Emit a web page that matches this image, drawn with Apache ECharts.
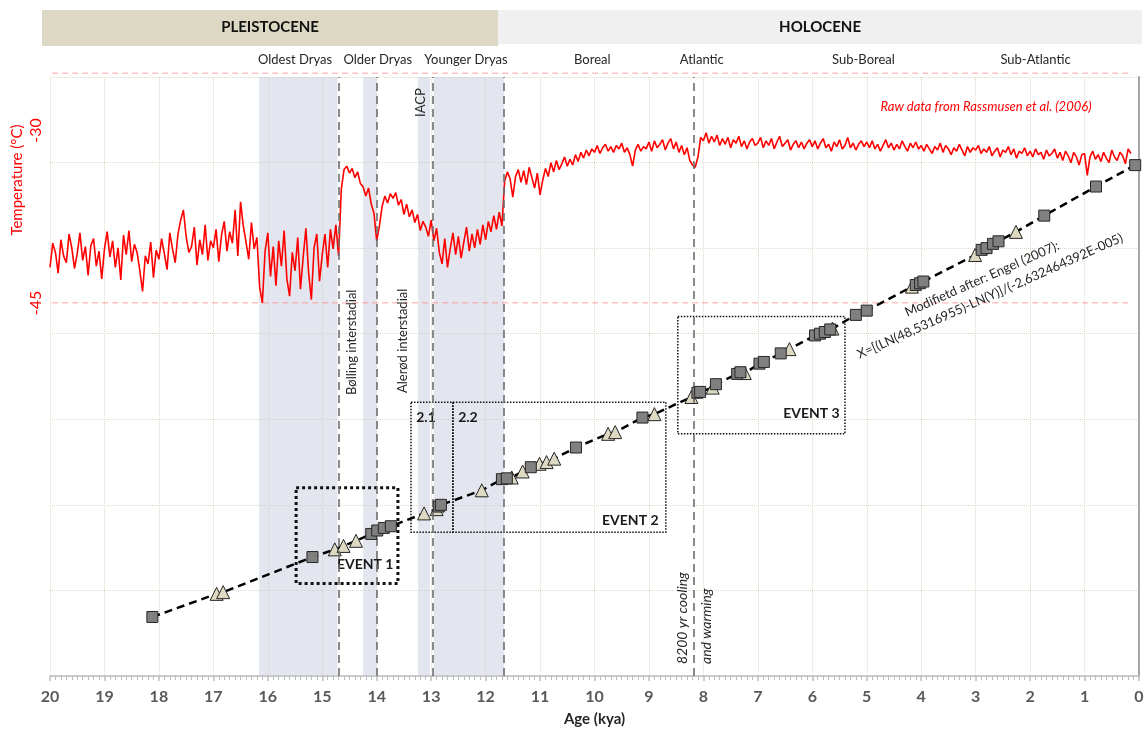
<!DOCTYPE html>
<html>
<head>
<meta charset="utf-8">
<script src="https://cdn.jsdelivr.net/npm/echarts@6/dist/echarts.min.js"></script>
<style>
  html, body { margin: 0; padding: 0; background: #fff; }
  #chart { width: 1145px; height: 730px; }
</style>
</head>
<body>
<div id="chart"></div>
<script>
  // temperature record, one value every 0.05 kya starting at 20 kya
  const tempAgeStart = 20;
  const tempAgeStep = 0.05;
  const temperature = [
    -41.9,-39.8,-40.6,-42.4,-39.5,-40.9,-41.5,-39.0,-40.2,-42.0,-40.7,-38.9,-41.3,-40.1,-42.6,-40.0,-39.4,-41.8,-40.5,-42.9,
    -40.3,-38.8,-41.0,-39.6,-41.9,-40.2,-43.0,-39.1,-40.8,-38.7,-41.4,-39.9,-40.6,-42.2,-44.0,-40.9,-41.6,-39.7,-42.8,-40.4,
    -41.2,-39.4,-40.7,-42.1,-38.9,-40.3,-41.5,-39.0,-37.8,-36.9,-39.2,-40.6,-40.1,-38.4,-41.7,-39.5,-40.8,-38.2,-41.3,-39.6,
    -40.2,-38.6,-41.4,-39.1,-37.9,-40.5,-38.8,-39.8,-36.9,-40.9,-36.2,-38.3,-39.7,-41.2,-38.0,-40.3,-39.3,-43.6,-45.0,-40.5,
    -38.9,-42.7,-40.1,-43.5,-39.6,-41.8,-38.7,-42.9,-44.4,-40.6,-42.2,-39.3,-43.8,-41.0,-38.5,-42.4,-44.7,-40.2,-39.0,-43.1,
    -40.8,-39.0,-41.9,-38.6,-40.3,-38.2,-40.9,-35.1,-33.4,-33.1,-33.7,-33.3,-34.1,-33.6,-34.6,-34.9,-35.7,-35.0,-36.4,-37.2,
    -39.6,-38.3,-36.6,-35.7,-36.3,-35.5,-35.9,-35.4,-36.5,-36.0,-37.3,-36.4,-37.5,-36.9,-38.0,-37.3,-38.7,-37.9,-38.4,-39.2,
    -37.8,-39.6,-38.5,-40.6,-41.6,-39.4,-41.9,-40.3,-38.9,-40.8,-39.2,-41.1,-39.7,-38.4,-40.5,-39.0,-40.2,-38.6,-39.9,-38.2,
    -39.5,-37.9,-38.8,-37.4,-38.6,-37.1,-38.3,-34.4,-33.6,-34.2,-35.8,-34.0,-33.4,-34.5,-33.5,-34.7,-33.2,-34.1,-35.0,-33.7,
    -35.6,-34.3,-33.3,-34.0,-32.8,-33.6,-32.6,-33.4,-32.9,-32.3,-33.1,-32.5,-33.0,-32.1,-32.7,-31.9,-32.4,-31.7,-32.2,-31.6,
    -31.9,-31.3,-32.0,-31.5,-31.2,-31.8,-31.4,-31.9,-31.3,-31.6,-31.1,-31.9,-31.5,-32.1,-33.1,-31.7,-31.2,-31.8,-31.4,-31.6,
    -31.0,-31.8,-30.9,-31.5,-31.2,-30.8,-31.7,-31.1,-30.7,-31.6,-31.0,-31.9,-31.3,-32.1,-31.5,-32.6,-33.0,-33.2,-32.3,-30.6,
    -30.9,-30.2,-31.1,-30.5,-31.0,-30.4,-31.3,-30.7,-31.2,-30.6,-31.5,-30.8,-31.1,-30.5,-31.4,-30.9,-31.6,-31.0,-30.7,-31.3,
    -31.1,-30.6,-31.5,-30.9,-31.3,-30.7,-31.6,-31.0,-30.5,-31.4,-31.1,-30.8,-31.7,-31.2,-30.9,-31.5,-31.0,-31.6,-31.1,-30.8,
    -31.4,-30.9,-31.6,-31.1,-30.7,-31.5,-31.2,-31.8,-31.0,-31.4,-30.8,-31.6,-31.3,-30.6,-31.5,-31.1,-31.7,-31.2,-30.9,-31.4,
    -31.0,-31.5,-30.9,-31.6,-31.2,-31.8,-31.3,-30.8,-31.5,-31.1,-31.7,-31.2,-31.6,-30.9,-31.4,-31.8,-31.1,-31.5,-31.0,-31.6,
    -31.3,-31.8,-31.2,-31.6,-32.0,-31.4,-31.7,-31.1,-31.9,-31.3,-31.6,-32.1,-31.5,-31.8,-31.2,-31.7,-32.2,-31.4,-31.9,-31.5,
    -31.7,-31.3,-32.0,-31.6,-31.9,-31.4,-32.2,-31.8,-31.5,-32.3,-31.7,-31.9,-31.4,-32.1,-31.6,-32.4,-31.8,-32.0,-31.5,-32.2,
    -31.8,-32.3,-31.6,-32.1,-31.9,-32.5,-31.7,-32.2,-32.0,-31.6,-32.4,-31.9,-32.6,-31.8,-32.2,-32.8,-31.9,-32.3,-33.0,-32.1,
    -32.0,-33.9,-32.3,-31.8,-32.5,-32.1,-32.7,-31.9,-32.4,-32.8,-31.7,-32.3,-32.6,-31.9,-32.2,-32.9,-31.6,-32.0
  ];

  // age model: [age kya, depth units]
  const squares = [
    [18.12,0.69],[15.18,1.39],[14.10,1.66],[13.99,1.70],[13.87,1.73],[13.74,1.75],[12.86,1.98],[12.82,2.00],
    [11.70,2.30],[11.61,2.31],[11.17,2.44],[10.34,2.67],[9.12,3.02],[8.11,3.31],[8.06,3.32],[7.77,3.41],
    [7.38,3.53],[7.32,3.55],[6.97,3.65],[6.89,3.67],[6.58,3.77],[5.95,3.98],[5.86,4.00],[5.77,4.02],[5.67,4.05],
    [5.20,4.22],[5.00,4.27],[4.10,4.57],[4.02,4.59],[3.96,4.61],[2.89,4.98],[2.80,5.00],[2.68,5.05],[2.58,5.08],
    [1.74,5.38],[0.79,5.72],[0.07,5.97]
  ];
  const triangles = [
    [16.94,0.96],[16.82,0.98],[14.77,1.48],[14.61,1.52],[14.38,1.58],[13.13,1.90],[12.90,1.95],[12.07,2.17],
    [11.52,2.32],[11.32,2.39],[11.01,2.48],[10.88,2.50],[10.74,2.54],[9.75,2.83],[9.62,2.85],[8.90,3.06],
    [8.22,3.26],[7.83,3.37],[7.24,3.54],[6.42,3.82],[5.63,4.06],[4.17,4.55],[3.01,4.92],[2.26,5.19]
  ];

  const bandStart = [16.16, 14.25, 13.24, 12.95];
  const bandEnd = [14.72, 14.0, 13.02, 11.66];
  const boundaryAges = [14.7, 14.0, 12.97, 11.66, 8.18];
  const refTemps = [-25, -45];

  const periodNames = ['Oldest Dryas', 'Older Dryas', 'Younger Dryas', 'Boreal', 'Atlantic', 'Sub-Boreal', 'Sub-Atlantic'];
  const periodAges = [15.5, 13.98, 12.36, 10.04, 8.03, 5.06, 1.9];

  // event boxes: [ageFrom, depthTop, ageTo, depthBottom]
  const eventNames = ['EVENT 1', '2.1', '2.2', 'EVENT 2', 'EVENT 3'];
  const eventBoxes = [
    [15.48, 2.2, 13.61, 1.08],
    [13.37, 3.2, 12.6, 1.68],
    [12.6, 3.2, 8.69, 1.68],
    [12.6, 3.2, 8.69, 1.68],
    [8.47, 4.2, 5.4, 2.83]
  ];

  const FONT = 'Lato, "Open Sans", sans-serif';
  const chart = echarts.init(document.getElementById('chart'));

  const tempData = temperature.map((t, i) => [+(tempAgeStart - i * tempAgeStep).toFixed(2), t]);
  const trendData = squares.concat(triangles).sort((a, b) => b[0] - a[0]);

  const gridLine = { show: true, lineStyle: { color: '#e0dbc6', type: 'dotted', width: 1 } };

  const eventAreas = eventBoxes.map((b, i) => {
    const name = eventNames[i];
    const big = name === 'EVENT 1';
    const isTop = name === '2.1' || name === '2.2';
    const noBorder = name === 'EVENT 2';
    return [
      {
        coord: [b[0], b[1]],
        itemStyle: {
          color: 'rgba(0,0,0,0)',
          borderColor: noBorder ? 'rgba(0,0,0,0)' : '#111',
          borderWidth: big ? 3 : 1.5,
          borderType: big ? [3, 3] : [1.5, 1.5]
        },
        label: {
          show: true,
          formatter: name,
          position: isTop ? 'insideTopLeft' : 'insideBottomRight',
          distance: 6,
          offset: isTop ? [0, 3] : (name === 'EVENT 2' ? [-2, 0] : [0, -8]),
          color: '#1a1a1a',
          fontFamily: FONT,
          fontWeight: 'bold',
          fontSize: 14
        }
      },
      { coord: [b[2], b[3]] }
    ];
  });

  const option = {
    animation: false,
    backgroundColor: '#fff',
    grid: [
      { left: 50, right: 6, top: 77, bottom: 54, outerBoundsMode: 'none' },
      { left: 50, right: 6, top: 73, bottom: 427, outerBoundsMode: 'none' }
    ],
    xAxis: [
      {
        type: 'value', gridIndex: 0, min: 0, max: 20, interval: 1, inverse: true,
        name: 'Age (kya)', nameLocation: 'middle', nameGap: 36, nameMoveOverlap: false,
        nameTextStyle: { fontFamily: FONT, fontWeight: 'bold', fontSize: 15, color: '#262626' },
        axisLine: { lineStyle: { color: '#bcbcbc', width: 1.5 } },
        axisTick: { show: true, length: 5, lineStyle: { color: '#bcbcbc', width: 1.5 } },
        minorTick: { show: true, splitNumber: 10, length: 4, lineStyle: { color: '#bcbcbc' } },
        axisLabel: { margin: 13, fontFamily: FONT, fontWeight: 'bold', fontSize: 16, color: '#595959' },
        splitLine: gridLine
      },
      {
        type: 'value', gridIndex: 1, min: 0, max: 20, inverse: true, show: false
      }
    ],
    yAxis: [
      {
        type: 'value', gridIndex: 0, min: 0, max: 7, interval: 1,
        axisLine: { show: true, lineStyle: { color: '#a6a6a6', width: 2 } },
        axisTick: { show: false },
        axisLabel: { show: false },
        splitLine: gridLine
      },
      {
        type: 'value', gridIndex: 1, min: -45, max: -25,
        name: 'Temperature (°C)', nameLocation: 'middle', nameGap: 25, nameMoveOverlap: false,
        nameTextStyle: { fontFamily: FONT, fontSize: 15, color: '#ff0000', padding: [0, 0, 0, 16] },
        axisLine: { show: false },
        axisTick: { show: false },
        splitLine: { show: false },
        axisLabel: {
          customValues: [-30, -45], rotate: 90, margin: 6,
          fontFamily: FONT, fontSize: 16, color: '#ff0000'
        }
      }
    ],
    series: [
      {
        name: 'bands', type: 'line', xAxisIndex: 0, yAxisIndex: 0, z: 1,
        data: trendData, showSymbol: false, silent: true,
        lineStyle: { opacity: 0 },
        markArea: {
          silent: true,
          itemStyle: { color: 'rgba(193,199,217,0.45)' },
          data: bandStart.map((s, i) => [{ xAxis: s }, { xAxis: bandEnd[i] }])
        },
        markLine: {
          silent: true, symbol: 'none', label: { show: false },
          lineStyle: { color: '#6e6e6e', type: [8, 5], width: 1.6, opacity: 1 },
          data: boundaryAges.map(a => ({ xAxis: a }))
        }
      },
      {
        name: 'trend', type: 'line', xAxisIndex: 0, yAxisIndex: 0, z: 3,
        data: trendData, showSymbol: false, silent: true,
        lineStyle: { color: '#000', width: 2.5, type: [8, 5] },
        markArea: { silent: true, data: eventAreas }
      },
      {
        name: 'triangles', type: 'scatter', xAxisIndex: 0, yAxisIndex: 0, z: 4,
        symbol: 'triangle', symbolSize: 13, data: triangles,
        itemStyle: { color: '#ddd9c3', borderColor: '#262626', borderWidth: 1, opacity: 1 }
      },
      {
        name: 'squares', type: 'scatter', xAxisIndex: 0, yAxisIndex: 0, z: 5,
        symbol: 'rect', symbolSize: 11, data: squares,
        itemStyle: { color: '#808080', borderColor: '#262626', borderWidth: 1, opacity: 1 }
      },
      {
        // pink reference levels, drawn as their own dashed line series
        name: 'refLevels', type: 'line', xAxisIndex: 1, yAxisIndex: 1, z: 2,
        data: refTemps.flatMap(t => [[19.96, t], [0.15, t], null]),
        connectNulls: false, showSymbol: false, silent: true,
        lineStyle: { color: '#ff8585', type: [6, 4], width: 1 }
      },
      {
        name: 'temperature', type: 'line', xAxisIndex: 1, yAxisIndex: 1, z: 3,
        data: tempData, showSymbol: false, silent: true,
        color: '#ff0000',
        lineStyle: { color: '#ff0000', width: 1.6 }
      }
    ]
  };

  chart.setOption(option);

  function txt(x, y, text, opts) {
    const o = opts || {};
    return {
      type: 'text', x: x, y: y, rotation: o.rotation || 0, z: 100,
      style: {
        text: text,
        fill: o.color || '#262626',
        fontFamily: FONT,
        fontSize: o.size || 13,
        fontWeight: o.weight || 'normal',
        fontStyle: o.italic ? 'italic' : 'normal',
        align: o.align || 'center', textAlign: o.align || 'center',
        verticalAlign: 'middle', textVerticalAlign: 'middle'
      }
    };
  }

  const px = a => chart.convertToPixel({ xAxisIndex: 0 }, a);
  const split = px(11.77);
  const graphics = [
    { type: 'rect', shape: { x: 42, y: 10, width: split - 42, height: 36 }, style: { fill: '#ddd8c4' }, z: 90 },
    { type: 'rect', shape: { x: split, y: 10, width: 1142 - split, height: 34 }, style: { fill: '#f0f0f0' }, z: 90 },
    txt((42 + split) / 2, 27, 'PLEISTOCENE', { size: 15, weight: 'bold', color: '#111' }),
    txt((split + 1142) / 2, 27, 'HOLOCENE', { size: 15, weight: 'bold', color: '#111' }),
    txt(986, 107, 'Raw data from Rassmusen et al. (2006)', { italic: true, color: '#ff0000' }),
    txt(352, 395, 'Bølling interstadial', { rotation: Math.PI / 2, align: 'left' }),
    txt(403, 393, 'Alerød interstadial', { rotation: Math.PI / 2, align: 'left' }),
    txt(421, 117, 'IACP', { rotation: Math.PI / 2, align: 'left' }),
    txt(682, 664, '8200 yr cooling', { rotation: Math.PI / 2, align: 'left', italic: true, size: 14 }),
    txt(706, 664, 'and warming', { rotation: Math.PI / 2, align: 'left', italic: true, size: 14 }),
    txt(982, 279, 'Modifietd after: Engel (2007):', { rotation: 24 * Math.PI / 180 }),
    txt(990, 296, 'X=[(LN(48,5316955)-LN(Y)]/(-2,632464392E-005)', { rotation: 24 * Math.PI / 180 })
  ];
  periodNames.forEach((n, i) => graphics.push(txt(px(periodAges[i]), 60, n)));

  chart.setOption({ graphic: { elements: graphics } });
</script>
</body>
</html>
